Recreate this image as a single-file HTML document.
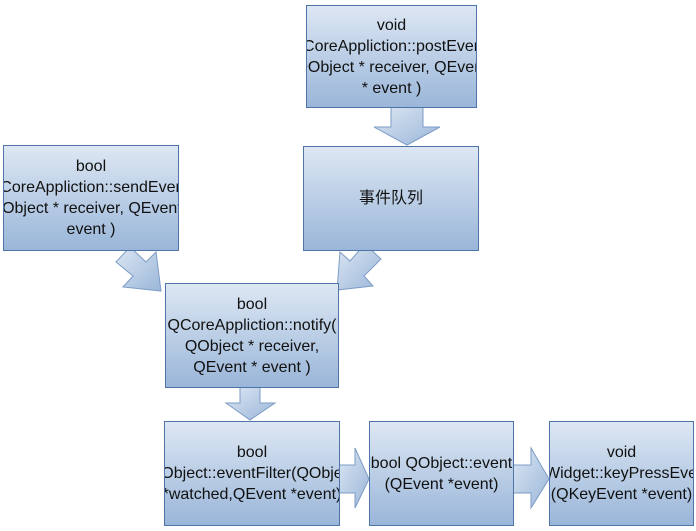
<!DOCTYPE html>
<html><head><meta charset="utf-8"><style>
body{margin:0;width:696px;height:531px;background:#fff;position:relative;overflow:hidden;font-family:"Liberation Sans","Noto Sans CJK SC",sans-serif;}
.b{position:absolute;box-sizing:border-box;border:1px solid #4f74a8;background:linear-gradient(#dde7f3,#9ab6d9);display:flex;align-items:center;justify-content:center;text-align:center;font-size:16px;line-height:21px;color:#111;overflow:hidden;}
svg{position:absolute;left:0;top:0}
</style></head><body>
<svg width="696" height="531">
<defs><linearGradient id="g" x1="0" y1="0" x2="1" y2="1"><stop offset="0" stop-color="#dde7f3"/><stop offset="1" stop-color="#9ab6d9"/></linearGradient></defs>
<g fill="url(#g)" stroke="#7d9cc6" stroke-width="1">
<polygon points="391,107 423,107 423,127 440,127 407,145 374,127 391,127"/>
<polygon points="240,387 260,387 260,403 275,403 250,420 226,403 240,403"/>
<polygon points="339,465 355,465 355,448 369,479 355,508 355,493 339,493"/>
<polygon points="513,465 531,465 531,448 549,479 531,508 531,493 513,493"/>
<polygon points="116,262 130,247 146,262 156,252 161,291 123,287 133,276"/>
<polygon points="365,244 381,259 364,276 373,286 337,290 340,252 350,261"/>
</g>
</svg>
<div class="b" style="left:306px;top:5px;width:171px;height:103px">void QCoreAppliction::postEvent( QObject * receiver, QEvent * event )</div>
<div class="b" style="left:303px;top:146px;width:176px;height:105px">事件队列</div>
<div class="b" style="left:3px;top:145px;width:176px;height:106px">bool QCoreAppliction::sendEvent( QObject * receiver, QEvent * event )</div>
<div class="b" style="left:165px;top:283px;width:174px;height:105px">bool QCoreAppliction::notify( QObject * receiver, QEvent * event )</div>
<div class="b" style="left:164px;top:421px;width:176px;height:105px">bool QObject::eventFilter(QObject *watched,QEvent *event)</div>
<div class="b" style="left:369px;top:421px;width:145px;height:105px">bool QObject::event (QEvent *event)</div>
<div class="b" style="left:549px;top:421px;width:145px;height:105px">void QWidget::keyPressEvent (QKeyEvent *event)</div>
</body></html>
